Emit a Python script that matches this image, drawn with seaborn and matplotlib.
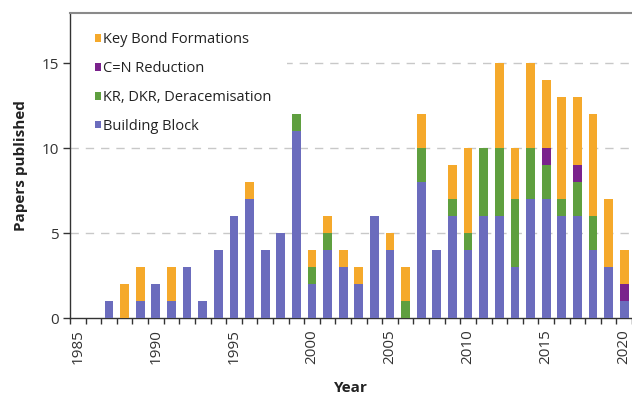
import numpy as np
import pandas as pd
import matplotlib
matplotlib.use("Agg")
import matplotlib.pyplot as plt
import seaborn as sns
from matplotlib.patches import Patch, Rectangle

years = list(range(1985, 2021))
building_block = [0, 0, 1, 0, 1, 2, 1, 3, 1, 4, 6, 7, 4, 5, 11, 2, 4, 3, 2, 6, 4, 0,
                  8, 4, 6, 4, 6, 6, 3, 7, 7, 6, 6, 4, 3, 1]
kr_dkr = [0, 0, 0, 0, 0, 0, 0, 0, 0, 0, 0, 0, 0, 0, 1, 1, 1, 0, 0, 0, 0, 1,
          2, 0, 1, 1, 4, 4, 4, 3, 2, 1, 2, 2, 0, 0]
cn_reduction = [0, 0, 0, 0, 0, 0, 0, 0, 0, 0, 0, 0, 0, 0, 0, 0, 0, 0, 0, 0, 0, 0,
                0, 0, 0, 0, 0, 0, 0, 0, 1, 0, 1, 0, 0, 1]
key_bond = [0, 0, 0, 2, 2, 0, 2, 0, 0, 0, 0, 1, 0, 0, 0, 1, 1, 1, 1, 0, 1, 2,
            2, 0, 2, 5, 0, 5, 3, 5, 4, 6, 4, 6, 4, 2]

series_names = ["Building Block", "KR, DKR, Deracemisation", "C=N Reduction", "Key Bond Formations"]
colors = ["#6b6cbd", "#5f9f3f", "#7a228c", "#f5a92b"]

df = pd.DataFrame({"year": years, "Building Block": building_block,
                   "KR, DKR, Deracemisation": kr_dkr, "C=N Reduction": cn_reduction,
                   "Key Bond Formations": key_bond})

sns.set_style("white")
plt.rcParams["font.family"] = ["Open Sans", "DejaVu Sans"]

fig = plt.figure(figsize=(6.32, 3.98), dpi=100)
ax = fig.add_axes([70 / 632, 80 / 398, 562 / 632, 305 / 398])

cum = df[series_names].cumsum(axis=1)
for name, col in reversed(list(zip(series_names, colors))):
    sns.barplot(x=df["year"], y=cum[name], native_scale=True, width=0.56,
                color=col, saturation=1, linewidth=0, ax=ax, zorder=3)

ax.set_xlim(1984.5, 2020.3)
ax.set_ylim(0, 17.95)
ax.set_yticks([0, 5, 10, 15])
ax.set_xticks(list(range(1985, 2021, 5)))
ax.set_xticklabels([str(y) for y in range(1985, 2021, 5)], rotation=90)
ax.set_xticks(np.arange(1984.5, 2021, 1), minor=True)
ax.tick_params(axis="x", which="major", length=0, pad=8, labelsize=11, labelcolor="#333333")
ax.tick_params(axis="x", which="minor", length=4, width=1, color="#333333", direction="out", bottom=True)
ax.tick_params(axis="y", which="major", length=5, width=1, color="#333333", direction="out", left=True,
               labelsize=11, labelcolor="#333333", pad=3)

ax.grid(False)
for v in [5, 10, 15]:
    ax.axhline(v, color="#c8c8c8", linestyle=(0, (6, 5)), linewidth=1, zorder=1)

# white legend background hiding the grid line behind it
ax.add_patch(Rectangle((0.0, 0.6), 0.386, 0.4, transform=ax.transAxes,
                       facecolor="white", edgecolor="none", zorder=2))

for s in ["left", "bottom"]:
    ax.spines[s].set_color("#333333")
    ax.spines[s].set_linewidth(1)
ax.spines["top"].set_color("#8a8a8a")
ax.spines["top"].set_linewidth(1.5)
ax.spines["right"].set_visible(False)

ax.set_xlabel("Year", fontsize=11, fontweight="bold", color="#222222", labelpad=12)
ax.set_ylabel("Papers published", fontsize=11, fontweight="bold", color="#222222", labelpad=10)

handles = [Patch(facecolor=c, edgecolor="none") for c in reversed(colors)]
leg = ax.legend(handles, list(reversed(series_names)), loc="upper left",
                bbox_to_anchor=(0.0445, 0.9367), frameon=False, fontsize=10.5,
                handlelength=0.42, handleheight=0.42, handletextpad=0.15,
                labelspacing=0.95, borderaxespad=0.0, borderpad=0.0)
leg.set_zorder(5)
for t in leg.get_texts():
    t.set_color("#222222")

fig.savefig("out.png", dpi=100)
